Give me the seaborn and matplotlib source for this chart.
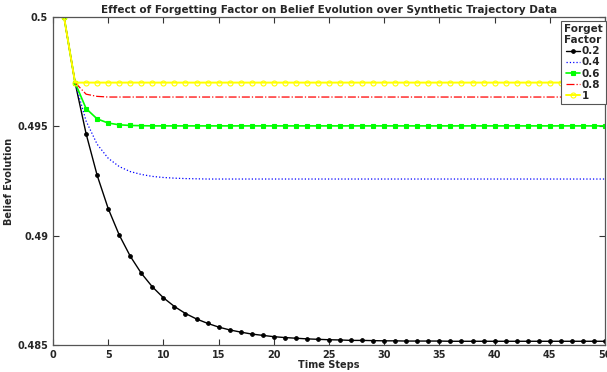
import pandas as pd
import matplotlib
matplotlib.use('Agg')
import matplotlib.pyplot as plt
import seaborn as sns
from matplotlib.ticker import FuncFormatter

# values (time steps 1..50)
steps = list(range(1, 51))
factors = ['0.2', '0.4', '0.6', '0.8', '1']

belief_02 = [0.5, 0.497, 0.49466, 0.49276, 0.49124, 0.49003, 0.48906, 0.48828, 0.48766, 0.48716,
             0.48676, 0.48644, 0.48619, 0.48599, 0.48582, 0.48569, 0.48559, 0.4855, 0.48544, 0.48538,
             0.48534, 0.48531, 0.48528, 0.48526, 0.48524, 0.48523, 0.48521, 0.48521, 0.4852, 0.48519,
             0.48519, 0.48518, 0.48518, 0.48518, 0.48518, 0.48517, 0.48517, 0.48517, 0.48517, 0.48517,
             0.48517, 0.48517, 0.48517, 0.48517, 0.48517, 0.48517, 0.48517, 0.48517, 0.48517, 0.48517]
belief_04 = [0.5, 0.497, 0.49524, 0.49418, 0.49354, 0.49316, 0.49293, 0.4928, 0.49271, 0.49266,
             0.49263, 0.49261, 0.4926, 0.49259, 0.49259, 0.49259, 0.49259, 0.49259, 0.49259, 0.49259,
             0.49259, 0.49259, 0.49259, 0.49259, 0.49259, 0.49259, 0.49259, 0.49259, 0.49259, 0.49259,
             0.49259, 0.49259, 0.49259, 0.49259, 0.49259, 0.49259, 0.49259, 0.49259, 0.49259, 0.49259,
             0.49259, 0.49259, 0.49259, 0.49259, 0.49259, 0.49259, 0.49259, 0.49259, 0.49259, 0.49259]
belief_06 = [0.5, 0.497, 0.49581, 0.49534, 0.49515, 0.49507, 0.49504, 0.49503, 0.49502, 0.49502,
             0.49502, 0.49502, 0.49502, 0.49502, 0.49502, 0.49502, 0.49502, 0.49502, 0.49502, 0.49502,
             0.49502, 0.49502, 0.49502, 0.49502, 0.49502, 0.49502, 0.49502, 0.49502, 0.49502, 0.49502,
             0.49502, 0.49502, 0.49502, 0.49502, 0.49502, 0.49502, 0.49502, 0.49502, 0.49502, 0.49502,
             0.49502, 0.49502, 0.49502, 0.49502, 0.49502, 0.49502, 0.49502, 0.49502, 0.49502, 0.49502]
belief_08 = [0.5, 0.497, 0.49647, 0.49637, 0.49634, 0.49634, 0.49634, 0.49634, 0.49634, 0.49634,
             0.49634, 0.49634, 0.49634, 0.49634, 0.49634, 0.49634, 0.49634, 0.49634, 0.49634, 0.49634,
             0.49634, 0.49634, 0.49634, 0.49634, 0.49634, 0.49634, 0.49634, 0.49634, 0.49634, 0.49634,
             0.49634, 0.49634, 0.49634, 0.49634, 0.49634, 0.49634, 0.49634, 0.49634, 0.49634, 0.49634,
             0.49634, 0.49634, 0.49634, 0.49634, 0.49634, 0.49634, 0.49634, 0.49634, 0.49634, 0.49634]
belief_10 = [0.5, 0.497, 0.497, 0.497, 0.497, 0.497, 0.497, 0.497, 0.497, 0.497,
             0.497, 0.497, 0.497, 0.497, 0.497, 0.497, 0.497, 0.497, 0.497, 0.497,
             0.497, 0.497, 0.497, 0.497, 0.497, 0.497, 0.497, 0.497, 0.497, 0.497,
             0.497, 0.497, 0.497, 0.497, 0.497, 0.497, 0.497, 0.497, 0.497, 0.497,
             0.497, 0.497, 0.497, 0.497, 0.497, 0.497, 0.497, 0.497, 0.497, 0.497]

series = [belief_02, belief_04, belief_06, belief_08, belief_10]
colors = ['black', 'blue', '#00ff00', 'red', '#ffff00']
# (linestyle, marker, markersize, linewidth, marker face)
styles = [('-', 'o', 2.6, 1.0, 'black'), (':', None, 0, 0.9, 'blue'),
          ('-', 's', 2.6, 1.2, '#00ff00'), ('-.', None, 0, 0.9, 'red'),
          ('-', 'o', 3.6, 1.4, 'none')]

sns.set_style('ticks')
plt.rcParams['font.family'] = ['DejaVu Sans']
plt.rcParams['font.weight'] = 'bold'

fig = plt.figure(figsize=(6.07, 3.72), dpi=100)
ax = fig.add_axes([0.0873, 0.0726, 0.9094, 0.8817])

for vals, fac, col, (ls, mk, ms, lw, face) in zip(series, factors, colors, styles):
    df = pd.DataFrame({'Time Steps': steps, 'Belief': vals})
    sns.lineplot(data=df, x='Time Steps', y='Belief', ax=ax, color=col, linestyle=ls,
                 marker=mk, markersize=ms, markeredgecolor=col, markerfacecolor=face,
                 markeredgewidth=0.8, linewidth=lw, label=fac)

ax.set_xlim(0, 50)
ax.set_ylim(0.485, 0.5)
ax.set_xticks(range(0, 51, 5))
ax.set_yticks([0.485, 0.49, 0.495, 0.5])
ax.yaxis.set_major_formatter(FuncFormatter(lambda v, p: '%g' % v))
ax.tick_params(direction='in', top=True, right=True, labelsize=7, length=4, width=0.8, color='#333333')
for sp in ax.spines.values():
    sp.set_color('#555555')
    sp.set_linewidth(0.9)

ax.set_title('Effect of Forgetting Factor on Belief Evolution over Synthetic Trajectory Data',
             fontsize=7.5, fontweight='bold', pad=3)
ax.set_xlabel('Time Steps', fontsize=7, fontweight='bold', labelpad=0)
ax.set_ylabel('Belief Evolution', fontsize=7, fontweight='bold', labelpad=2)

leg = ax.legend(title='Forget\nFactor', loc='upper right', bbox_to_anchor=(1.003, 0.992),
                fontsize=7.5, title_fontproperties={'weight': 'bold', 'size': 7.5},
                handlelength=1.3, handletextpad=0.2, borderpad=0.3, labelspacing=0.1,
                borderaxespad=0.1, fancybox=False, framealpha=1, edgecolor='#555555')
leg.get_frame().set_linewidth(0.8)

fig.savefig('out.png', dpi=100)
